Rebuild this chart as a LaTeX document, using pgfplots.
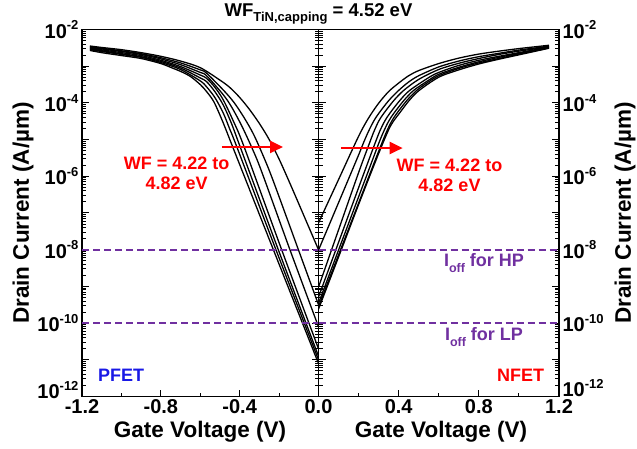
\documentclass[border=0pt]{standalone}
\usepackage{pgfplots}
\pgfplotsset{compat=1.18}
\usepackage{fontspec}
\setmainfont{Liberation Sans}
\usetikzlibrary{arrows.meta}
\definecolor{offpurple}{RGB}{112,48,160}
\definecolor{pblue}{RGB}{25,25,230}
\newcommand{\tl}[1]{10\raisebox{0.42em}{\fontsize{13}{13}\selectfont #1}}
\newcommand{\minorlist}{2e-12,3e-12,4e-12,5e-12,6e-12,7e-12,8e-12,9e-12,2e-11,3e-11,4e-11,5e-11,6e-11,7e-11,8e-11,9e-11,2e-10,3e-10,4e-10,5e-10,6e-10,7e-10,8e-10,9e-10,2e-9,3e-9,4e-9,5e-9,6e-9,7e-9,8e-9,9e-9,2e-8,3e-8,4e-8,5e-8,6e-8,7e-8,8e-8,9e-8,2e-7,3e-7,4e-7,5e-7,6e-7,7e-7,8e-7,9e-7,2e-6,3e-6,4e-6,5e-6,6e-6,7e-6,8e-6,9e-6,2e-5,3e-5,4e-5,5e-5,6e-5,7e-5,8e-5,9e-5,2e-4,3e-4,4e-4,5e-4,6e-4,7e-4,8e-4,9e-4,2e-3,3e-3,4e-3,5e-3,6e-3,7e-3,8e-3,9e-3}
\begin{document}
\begin{tikzpicture}[x=1pt,y=1pt]
\path[use as bounding box] (0,0) rectangle (637,449);
% ---------------- PFET ----------------
\begin{axis}[
    scale only axis, height=367pt, width=236.5pt,
    ymode=log, ymin=1e-12, ymax=1e-2,
    at={(82pt,52.5pt)}, anchor=south west,
    xmin=-1.2, xmax=0,
    axis line style={line width=1.5pt},
    tick style={line width=1pt, black},
    major tick length=7pt, minor tick length=4pt,
    tick align=inside,
    xtick pos=left, ytick pos=both,
    ytick={1e-12,1e-11,1e-10,1e-9,1e-8,1e-7,1e-6,1e-5,1e-4,1e-3,1e-2},
    minor ytick/.expanded={\minorlist},
    yticklabels={\raisebox{-2pt}[0pt][0pt]{\tl{-12}},,\tl{-10},,\tl{-8},,\tl{-6},,\tl{-4},,\tl{-2}},
    tick label style={font=\fontsize{20}{20}\selectfont\bfseries},
    xtick={-1.2,-0.8,-0.4,0}, xticklabels={-1.2,-0.8,-0.4,0.0},
    minor xtick={-1.0,-0.6,-0.2}]
\addplot[black, line width=1.3pt, smooth, no marks] coordinates {(-1.16,2.69e-3) (-1.1,2.34e-3) (-1.0,1.95e-3) (-0.9,1.62e-3) (-0.8,1.18e-3) (-0.737,8.71e-4) (-0.7,7.24e-4) (-0.65,5.25e-4) (-0.6,3.16e-4) (-0.568,2.04e-4) (-0.53,1.05e-4) (-0.483,2.82e-5) (-0.436,6.46e-6) (-0.229,1.00e-8) (0,7.94e-12)};
\addplot[black, line width=1.3pt, smooth, no marks] coordinates {(-1.16,2.82e-3) (-1.0,2.09e-3) (-0.9,1.74e-3) (-0.8,1.26e-3) (-0.7,8.13e-4) (-0.6,3.98e-4) (-0.568,2.75e-4) (-0.525,1.38e-4) (-0.483,5.25e-5) (-0.45,1.91e-5) (-0.415,6.46e-6) (-0.216,1.00e-8) (0,1.00e-11)};
\addplot[black, line width=1.3pt, smooth, no marks] coordinates {(-1.16,2.95e-3) (-1.0,2.19e-3) (-0.9,1.82e-3) (-0.8,1.35e-3) (-0.7,8.91e-4) (-0.6,4.79e-4) (-0.568,3.80e-4) (-0.525,2.00e-4) (-0.483,8.71e-5) (-0.44,2.63e-5) (-0.398,6.46e-6) (-0.204,1.00e-8) (0,1.26e-11)};
\addplot[black, line width=1.3pt, smooth, no marks] coordinates {(-1.16,3.09e-3) (-1.0,2.34e-3) (-0.9,1.95e-3) (-0.8,1.45e-3) (-0.7,9.77e-4) (-0.6,5.75e-4) (-0.568,4.68e-4) (-0.525,2.63e-4) (-0.483,1.20e-4) (-0.43,3.02e-5) (-0.378,6.46e-6) (-0.187,1.00e-8) (0,2.00e-11)};
\addplot[black, line width=1.3pt, smooth, no marks] coordinates {(-1.16,3.24e-3) (-1.0,2.51e-3) (-0.9,2.09e-3) (-0.8,1.58e-3) (-0.7,1.10e-3) (-0.6,6.76e-4) (-0.568,5.50e-4) (-0.483,1.66e-4) (-0.44,7.59e-5) (-0.39,2.40e-5) (-0.339,6.17e-6) (-0.29,1.41e-6) (-0.145,1.00e-8) (0,7.94e-11)};
\addplot[black, line width=1.3pt, smooth, no marks] coordinates {(-1.16,3.39e-3) (-1.0,2.63e-3) (-0.9,2.19e-3) (-0.8,1.70e-3) (-0.7,1.23e-3) (-0.6,7.94e-4) (-0.568,6.46e-4) (-0.483,2.24e-4) (-0.43,1.05e-4) (-0.38,4.17e-5) (-0.33,1.41e-5) (-0.28,3.55e-6) (-0.23,7.59e-7) (-0.102,1.00e-8) (0,3.16e-10)};
\addplot[black, line width=1.3pt, smooth, no marks] coordinates {(-1.16,3.55e-3) (-1.1,3.24e-3) (-1.0,2.82e-3) (-0.9,2.34e-3) (-0.8,1.86e-3) (-0.7,1.38e-3) (-0.6,9.12e-4) (-0.5,4.17e-4) (-0.45,2.63e-4) (-0.4,1.41e-4) (-0.35,6.61e-5) (-0.3,2.75e-5) (-0.25,1.00e-5) (-0.2,2.95e-6) (-0.15,7.41e-7) (-0.1,1.78e-7) (0,1.00e-8)};
\addplot[offpurple, line width=1.8pt, dash pattern=on 7pt off 4pt] coordinates {(-1.2,1e-8) (0,1e-8)};
\addplot[offpurple, line width=1.8pt, dash pattern=on 7pt off 4pt] coordinates {(-1.2,1e-10) (0,1e-10)};
\draw[red, line width=2.4pt, -{Triangle[length=13pt,width=12pt]}] (axis cs:-0.49,6.3e-6) -- (axis cs:-0.18,6.3e-6);
\end{axis}
% ---------------- NFET ----------------
\begin{axis}[
    scale only axis, height=367pt, width=240.5pt,
    ymode=log, ymin=1e-12, ymax=1e-2,
    at={(318.5pt,52.5pt)}, anchor=south west,
    xmin=0, xmax=1.2,
    axis line style={line width=1.5pt},
    tick style={line width=1pt, black},
    major tick length=7pt, minor tick length=4pt,
    tick align=inside,
    xtick pos=left, yticklabel pos=right, ytick pos=both,
    ytick={1e-12,1e-11,1e-10,1e-9,1e-8,1e-7,1e-6,1e-5,1e-4,1e-3,1e-2},
    minor ytick/.expanded={\minorlist},
    yticklabels={\raisebox{0pt}[0pt][0pt]{\tl{-12}},,\tl{-10},,\tl{-8},,\tl{-6},,\tl{-4},,\tl{-2}},
    tick label style={font=\fontsize{20}{20}\selectfont\bfseries},
    xtick={0,0.4,0.8,1.2}, xticklabels={,0.4,0.8,1.2},
    minor xtick={0.2,0.6,1.0}]
\addplot[black, line width=1.3pt, smooth, no marks] coordinates {(0,5.37e-8) (0.1,8.13e-7) (0.2,1.23e-5) (0.25,3.89e-5) (0.3,9.77e-5) (0.35,2.04e-4) (0.4,3.47e-4) (0.45,5.50e-4) (0.5,7.59e-4) (0.6,1.18e-3) (0.7,1.66e-3) (0.8,2.14e-3) (0.9,2.57e-3) (1.0,3.02e-3) (1.1,3.47e-3) (1.15,3.72e-3)};
\addplot[black, line width=1.3pt, smooth, no marks] coordinates {(0,9.77e-9) (0.1,1.91e-7) (0.2,3.80e-6) (0.225,8.32e-6) (0.25,1.70e-5) (0.275,3.16e-5) (0.3,5.13e-5) (0.35,1.15e-4) (0.4,2.19e-4) (0.45,3.72e-4) (0.5,5.50e-4) (0.6,9.55e-4) (0.7,1.38e-3) (0.8,1.82e-3) (0.9,2.24e-3) (1.0,2.75e-3) (1.1,3.24e-3) (1.15,3.55e-3)};
\addplot[black, line width=1.3pt, smooth, no marks] coordinates {(0,9.55e-10) (0.1,3.47e-8) (0.2,1.26e-6) (0.25,6.92e-6) (0.275,1.58e-5) (0.3,3.16e-5) (0.325,5.13e-5) (0.375,1.15e-4) (0.425,2.19e-4) (0.5,4.37e-4) (0.6,8.13e-4) (0.7,1.20e-3) (0.8,1.62e-3) (0.9,2.09e-3) (1.0,2.57e-3) (1.1,3.09e-3) (1.15,3.47e-3)};
\addplot[black, line width=1.3pt, smooth, no marks] coordinates {(0,5.13e-10) (0.1,1.58e-8) (0.2,4.90e-7) (0.25,2.69e-6) (0.28,7.41e-6) (0.305,1.66e-5) (0.33,3.16e-5) (0.355,5.13e-5) (0.405,1.15e-4) (0.455,2.19e-4) (0.55,4.90e-4) (0.6,6.76e-4) (0.7,1.05e-3) (0.8,1.45e-3) (0.9,1.86e-3) (1.0,2.34e-3) (1.1,2.95e-3) (1.15,3.31e-3)};
\addplot[black, line width=1.3pt, smooth, no marks] coordinates {(0,3.47e-10) (0.1,9.77e-9) (0.2,2.75e-7) (0.25,1.45e-6) (0.3,7.76e-6) (0.325,1.66e-5) (0.35,3.16e-5) (0.375,5.13e-5) (0.425,1.15e-4) (0.475,2.19e-4) (0.55,4.17e-4) (0.6,6.03e-4) (0.7,9.33e-4) (0.8,1.32e-3) (0.9,1.74e-3) (1.0,2.24e-3) (1.1,2.82e-3) (1.15,3.24e-3)};
\addplot[black, line width=1.3pt, smooth, no marks] coordinates {(0,2.82e-10) (0.1,7.24e-9) (0.2,1.86e-7) (0.3,4.79e-6) (0.34,1.66e-5) (0.365,3.16e-5) (0.39,5.13e-5) (0.44,1.15e-4) (0.49,2.19e-4) (0.54,3.47e-4) (0.6,5.50e-4) (0.7,8.71e-4) (0.8,1.23e-3) (0.9,1.62e-3) (1.0,2.14e-3) (1.1,2.75e-3) (1.15,3.16e-3)};
\addplot[black, line width=1.3pt, smooth, no marks] coordinates {(0,2.40e-10) (0.1,6.31e-9) (0.2,1.70e-7) (0.3,4.17e-6) (0.35,1.86e-5) (0.375,3.24e-5) (0.4,4.90e-5) (0.45,1.12e-4) (0.5,2.14e-4) (0.6,5.01e-4) (0.7,7.94e-4) (0.8,1.15e-3) (0.9,1.55e-3) (1.0,2.04e-3) (1.1,2.69e-3) (1.15,3.09e-3)};
\addplot[offpurple, line width=1.8pt, dash pattern=on 7pt off 4pt] coordinates {(0,1e-8) (1.2,1e-8)};
\addplot[offpurple, line width=1.8pt, dash pattern=on 7pt off 4pt] coordinates {(0,1e-10) (1.2,1e-10)};
\draw[red, line width=2.4pt, -{Triangle[length=13pt,width=12pt]}] (axis cs:0.112,5.9e-6) -- (axis cs:0.42,5.9e-6);
\end{axis}
% ---------------- texts ----------------
\node[font=\fontsize{18.5}{18.5}\selectfont\bfseries] at (318.5,435) {WF\raisebox{-0.25em}{\fontsize{13}{13}\selectfont TiN,capping} = 4.52 eV};
\node[rotate=90, font=\fontsize{22.5}{22.5}\selectfont\bfseries] at (23,236) {Drain Current (A/\textmu m)};
\node[rotate=90, font=\fontsize{22.5}{22.5}\selectfont\bfseries] at (625,236) {Drain Current (A/\textmu m)};
\node[font=\fontsize{22.5}{22.5}\selectfont\bfseries] at (200,17) {Gate Voltage (V)};
\node[font=\fontsize{22.5}{22.5}\selectfont\bfseries] at (441,17) {Gate Voltage (V)};
\node[red, align=center, font=\fontsize{18}{20}\selectfont\bfseries] at (176.7,276) {WF = 4.22 to\\4.82 eV};
\node[red, align=center, font=\fontsize{18}{20}\selectfont\bfseries] at (449.5,274) {WF = 4.22 to\\4.82 eV};
\node[offpurple, font=\fontsize{18}{18}\selectfont\bfseries] at (484,186) {I\raisebox{-0.3em}{\fontsize{12.5}{12.5}\selectfont off} for HP};
\node[offpurple, font=\fontsize{18}{18}\selectfont\bfseries] at (484,112) {I\raisebox{-0.3em}{\fontsize{12.5}{12.5}\selectfont off} for LP};
\node[pblue, font=\fontsize{18}{18}\selectfont\bfseries] at (121,74) {PFET};
\node[red, font=\fontsize{18}{18}\selectfont\bfseries] at (520.5,74) {NFET};
\end{tikzpicture}
\end{document}
